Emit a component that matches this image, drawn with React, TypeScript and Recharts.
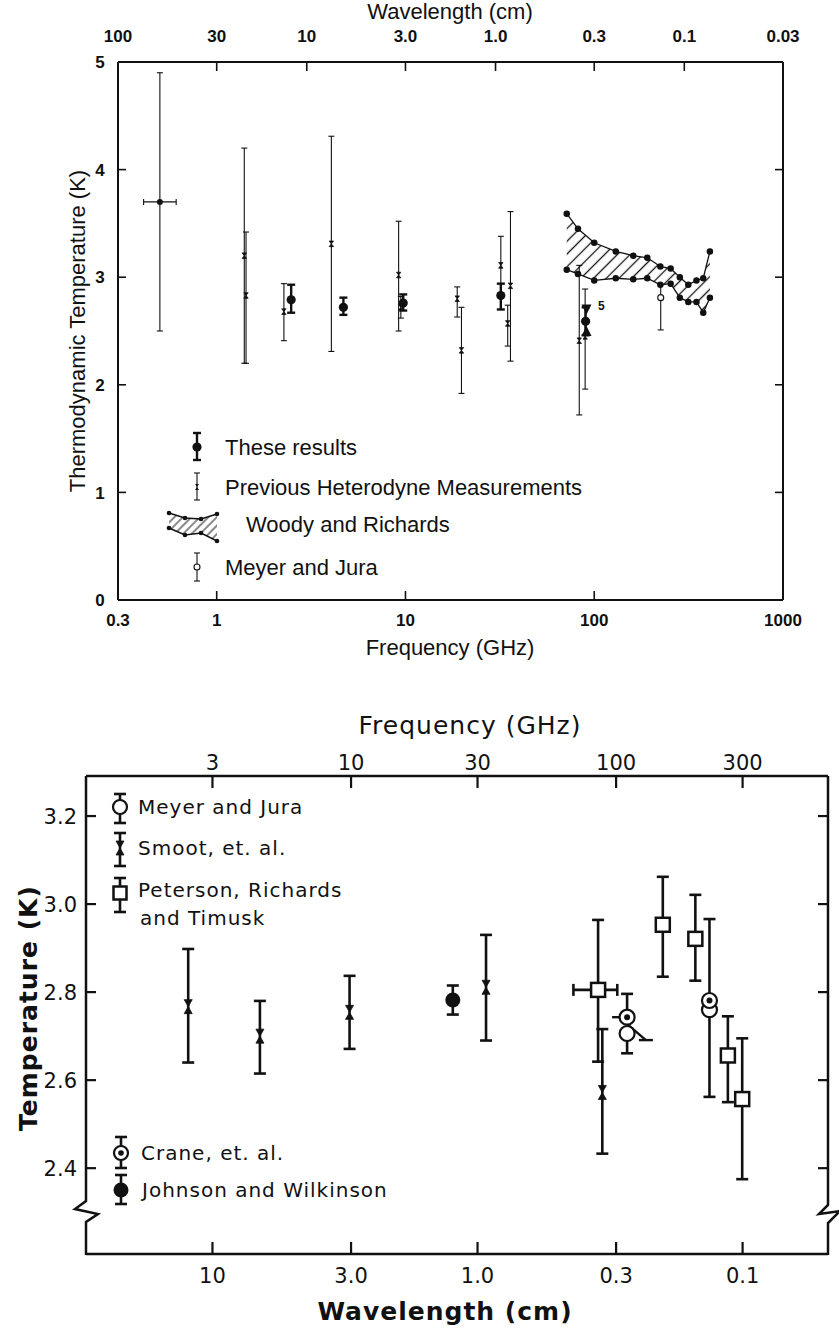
import React from "react";
import { ComposedChart, Scatter, ErrorBar, XAxis, YAxis, Area, Line } from "recharts";

// ---------- 上段: 周波数 (GHz) vs 熱力学温度 ----------
const topFreqTicks = [0.3, 1, 10, 100, 1000];
const topFreqLabels = ["0.3", "1", "10", "100", "1000"];
const topWaveTicks = [0.3, 1, 3, 10, 30, 100, 300, 1000];
const topWaveLabels = ["100", "30", "10", "3.0", "1.0", "0.3", "0.1", "0.03"];
const topTempTicks = [0, 1, 2, 3, 4, 5];
const topTempLabels = ["0", "1", "2", "3", "4", "5"];

// These results
const theseFreq = [2.48, 4.69, 9.73, 32, 90];
const theseTemp = [2.79, 2.72, 2.76, 2.83, 2.59];
const theseLow = [2.67, 2.65, 2.69, 2.7, 2.46];
const theseHigh = [2.93, 2.81, 2.84, 2.94, 2.72];

// 三角マーカー (90 GHz 付近)
const triFreq = [91, 91];
const triTemp = [2.7, 2.5];
const triDir = ["down", "up"];

// Previous Heterodyne Measurements
const heteroFreq = [1.4, 1.43, 2.27, 4.05, 9.2, 9.45, 18.8, 19.8, 32, 34.8, 36, 83.3, 89.5];
const heteroTemp = [3.2, 2.83, 2.68, 3.31, 3.02, 2.72, 2.8, 2.32, 3.11, 2.57, 2.92, 2.41, 2.45];
const heteroLow = [2.2, 2.2, 2.41, 2.31, 2.5, 2.62, 2.63, 1.92, 2.85, 2.36, 2.22, 1.72, 1.96];
const heteroHigh = [4.2, 3.42, 2.94, 4.31, 3.52, 2.82, 2.91, 2.72, 3.38, 2.74, 3.61, 3.11, 2.89];

// 低周波の点 (横方向の誤差つき)
const longFreq = [0.5];
const longTemp = [3.7];
const longLow = [2.5];
const longHigh = [4.9];
const longFreqLow = [0.41];
const longFreqHigh = [0.61];

// Meyer and Jura (上段)
const mjTopFreq = [225];
const mjTopTemp = [2.81];
const mjTopLow = [2.51];
const mjTopHigh = [2.93];

// Woody and Richards 帯域
const bandFreq = [71.5, 82, 100, 130, 161, 191, 224, 254, 284, 315, 348, 378, 410];
const bandUpper = [3.59, 3.45, 3.32, 3.24, 3.2, 3.18, 3.1, 3.08, 3.0, 2.93, 2.97, 2.99, 3.24];
const bandLower = [3.07, 3.03, 2.97, 2.99, 2.98, 2.99, 2.93, 2.94, 2.81, 2.77, 2.77, 2.67, 2.81];

// ---------- 下段: 波長 (cm) vs 温度 ----------
const botFreqTicks = [3, 10, 30, 100, 300];
const botFreqLabels = ["3", "10", "30", "100", "300"];
const botWaveLabels = ["10", "3.0", "1.0", "0.3", "0.1"];
const botTempTicks = [2.4, 2.6, 2.8, 3.0, 3.2];
const botTempLabels = ["2.4", "2.6", "2.8", "3.0", "3.2"];

const smootFreq = [2.43, 4.53, 9.87, 32.3, 88.7];
const smootTemp = [2.767, 2.7, 2.754, 2.811, 2.572];
const smootLow = [2.64, 2.615, 2.671, 2.69, 2.433];
const smootHigh = [2.898, 2.78, 2.837, 2.93, 2.716];

const jwFreq = [24.2];
const jwTemp = [2.782];
const jwLow = [2.749];
const jwHigh = [2.815];

const prtFreq = [85.5, 150, 199, 264, 299];
const prtTemp = [2.805, 2.953, 2.921, 2.656, 2.557];
const prtLow = [2.642, 2.835, 2.826, 2.55, 2.375];
const prtHigh = [2.964, 3.062, 3.021, 2.745, 2.695];
const prtFreqLow = [69, 150, 199, 264, 299];
const prtFreqHigh = [101, 150, 199, 264, 299];

const mjFreq = [110, 225];
const mjTemp = [2.706, 2.76];
const mjLow = [2.661, 2.562];
const mjHigh = [2.706, 2.966];

const craneFreq = [110, 225];
const craneTemp = [2.743, 2.781];
const craneLow = [2.743, 2.781];
const craneHigh = [2.796, 2.781];

// 斜めの誤差範囲
const slantFreq = [102.6, 129.5];
const slantTemp = [2.743, 2.691];

const INK = "#111";
const TOP_FONT = "'Liberation Sans', Arial, sans-serif";
const BOT_FONT = "'DejaVu Sans', sans-serif";

function pts(f: number[], t: number[], lo: number[], hi: number[], fl?: number[], fh?: number[]) {
  return f.map((v, i) => ({
    f: v,
    t: t[i],
    ey: [t[i] - lo[i], hi[i] - t[i]],
    ex: fl && fh ? [v - fl[i], fh[i] - v] : [0, 0],
  }));
}

const theseData = pts(theseFreq, theseTemp, theseLow, theseHigh);
const heteroData = pts(heteroFreq, heteroTemp, heteroLow, heteroHigh);
const longData = pts(longFreq, longTemp, longLow, longHigh, longFreqLow, longFreqHigh);
const mjTopData = pts(mjTopFreq, mjTopTemp, mjTopLow, mjTopHigh);
const triData = triFreq.map((f, i) => ({ f, t: triTemp[i], dir: triDir[i] }));
const bandData = bandFreq.map((f, i) => ({
  f,
  hi: bandUpper[i],
  lo: bandLower[i],
  band: [bandLower[i], bandUpper[i]],
}));

const smootData = pts(smootFreq, smootTemp, smootLow, smootHigh);
const jwData = pts(jwFreq, jwTemp, jwLow, jwHigh);
const prtData = pts(prtFreq, prtTemp, prtLow, prtHigh, prtFreqLow, prtFreqHigh);
const mjData = pts(mjFreq, mjTemp, mjLow, mjHigh);
const craneData = pts(craneFreq, craneTemp, craneLow, craneHigh);
const slantData = slantFreq.map((f, i) => ({ f, t: slantTemp[i] }));

/**
 * 内向きの目盛り線とラベルを描くカスタム tick
 */
function AxisTick({ x, y, payload, o }: any) {
  const v = payload.value;
  const idx = o.values.indexOf(v);
  const label = o.labels && idx >= 0 ? o.labels[idx] : "";
  const drawLine = !o.noLine.includes(v);
  let l = [x, y, x, y];
  let tx = x;
  let ty = y;
  let anchor = "middle";
  if (o.side === "bottom") {
    l = [x, y, x, y - o.len];
    ty = y + o.gap;
  } else if (o.side === "top") {
    l = [x, y, x, y + o.len];
    ty = y - o.gap;
  } else if (o.side === "left") {
    l = [x, y, x + o.len, y];
    tx = x - o.gap;
    anchor = o.anchor || "end";
  } else {
    l = [x, y, x - o.len, y];
  }
  return (
    <g>
      {drawLine && <line x1={l[0]} y1={l[1]} x2={l[2]} y2={l[3]} stroke={INK} strokeWidth={o.sw} />}
      {label && (
        <text
          x={tx}
          y={ty}
          dy="0.36em"
          textAnchor={anchor}
          fontFamily={o.font}
          fontSize={o.size}
          fontWeight={o.weight || "normal"}
          fill={INK}
        >
          {label}
        </text>
      )}
    </g>
  );
}

const tickOf = (o: any) => (p: any) => <AxisTick {...p} o={o} />;

// マーカー形状
const dotShape = (r: number) => (p: any) => <circle cx={p.cx} cy={p.cy} r={r} fill={INK} />;
const openCircle = (r: number, sw: number) => (p: any) => (
  <circle cx={p.cx} cy={p.cy} r={r} fill="#fff" stroke={INK} strokeWidth={sw} />
);
const hourglass = (w: number, h: number) => (p: any) => (
  <path
    d={`M${p.cx - w},${p.cy - h}L${p.cx + w},${p.cy - h}L${p.cx - w},${p.cy + h}L${p.cx + w},${p.cy + h}Z`}
    fill={INK}
    stroke={INK}
    strokeWidth={0.8}
  />
);
const squareShape = (p: any) => (
  <rect x={p.cx - 7} y={p.cy - 7} width={14} height={14} fill="#fff" stroke={INK} strokeWidth={2.5} />
);
const craneShape = (p: any) => (
  <g>
    <circle cx={p.cx} cy={p.cy} r={7.5} fill="#fff" stroke={INK} strokeWidth={2.2} />
    <circle cx={p.cx} cy={p.cy} r={3} fill={INK} />
  </g>
);
const triShape = (p: any) => {
  const s = 5;
  const d =
    p.payload.dir === "down"
      ? `M${p.cx - s},${p.cy - s}L${p.cx + s},${p.cy - s}L${p.cx},${p.cy + s}Z`
      : `M${p.cx - s},${p.cy + s}L${p.cx + s},${p.cy + s}L${p.cx},${p.cy - s}Z`;
  return <path d={d} fill={INK} />;
};

function TopChart() {
  const axisLine = { stroke: INK, strokeWidth: 2 };
  return (
    <ComposedChart width={839} height={680} data={bandData} margin={{ top: 32, right: 16, bottom: 50, left: 78 }}>
      <XAxis
        dataKey="f"
        type="number"
        scale="log"
        domain={[0.3, 1000]}
        allowDataOverflow
        ticks={topFreqTicks}
        interval={0}
        height={30}
        tickSize={0}
        tickMargin={0}
        tickLine={false}
        axisLine={axisLine}
        tick={tickOf({ side: "bottom", values: topFreqTicks, labels: topFreqLabels, noLine: [0.3, 1000], len: 9, gap: 20, sw: 1.6, font: TOP_FONT, size: 17, weight: "bold" })}
      />
      <XAxis
        xAxisId="top"
        orientation="top"
        dataKey="f"
        type="number"
        scale="log"
        domain={[0.3, 1000]}
        allowDataOverflow
        ticks={topWaveTicks}
        interval={0}
        height={30}
        tickSize={0}
        tickMargin={0}
        tickLine={false}
        axisLine={axisLine}
        tick={tickOf({ side: "top", values: topWaveTicks, labels: topWaveLabels, noLine: [0.3, 1000], len: 9, gap: 26, sw: 1.6, font: TOP_FONT, size: 17, weight: "bold" })}
      />
      <YAxis
        dataKey="t"
        type="number"
        domain={[0, 5]}
        allowDataOverflow
        ticks={topTempTicks}
        interval={0}
        width={40}
        tickSize={0}
        tickMargin={0}
        tickLine={false}
        axisLine={axisLine}
        tick={tickOf({ side: "left", anchor: "middle", values: topTempTicks, labels: topTempLabels, noLine: [0, 5], len: 8, gap: 18, sw: 1.6, font: TOP_FONT, size: 17, weight: "bold" })}
      />
      <YAxis
        yAxisId="right"
        orientation="right"
        type="number"
        domain={[0, 5]}
        allowDataOverflow
        ticks={topTempTicks}
        interval={0}
        width={40}
        tickSize={0}
        tickMargin={0}
        tickLine={false}
        axisLine={axisLine}
        tick={tickOf({ side: "right", values: topTempTicks, labels: null, noLine: [0, 5], len: 8, gap: 0, sw: 1.6 })}
      />

      {/* Woody and Richards 帯域 */}
      <Area dataKey="band" type="linear" fill="url(#hatch)" fillOpacity={1} stroke="none" isAnimationActive={false} />
      <Line dataKey="hi" type="linear" stroke={INK} strokeWidth={1.3} dot={{ r: 2.6, fill: INK, stroke: INK }} isAnimationActive={false} />
      <Line dataKey="lo" type="linear" stroke={INK} strokeWidth={1.3} dot={{ r: 2.6, fill: INK, stroke: INK }} isAnimationActive={false} />

      {/* 以前のヘテロダイン測定 */}
      <Scatter data={heteroData} dataKey="t" shape={hourglass(2.2, 2.8)} isAnimationActive={false}>
        <ErrorBar dataKey="ey" direction="y" width={3} stroke={INK} strokeWidth={1.1} />
      </Scatter>
      <Scatter data={longData} dataKey="t" shape={dotShape(3)} isAnimationActive={false}>
        <ErrorBar dataKey="ey" direction="y" width={3} stroke={INK} strokeWidth={1.1} />
        <ErrorBar dataKey="ex" direction="x" width={3} stroke={INK} strokeWidth={1.1} />
      </Scatter>

      {/* These results */}
      <Scatter data={theseData} dataKey="t" shape={dotShape(4.6)} isAnimationActive={false}>
        <ErrorBar dataKey="ey" direction="y" width={4} stroke={INK} strokeWidth={2.4} />
      </Scatter>
      <Scatter data={triData} dataKey="t" shape={triShape} isAnimationActive={false} />

      {/* Meyer and Jura */}
      <Scatter data={mjTopData} dataKey="t" shape={openCircle(3, 1.1)} isAnimationActive={false}>
        <ErrorBar dataKey="ey" direction="y" width={3} stroke={INK} strokeWidth={1.1} />
      </Scatter>
    </ComposedChart>
  );
}

function BottomChart() {
  const axisLine = { stroke: INK, strokeWidth: 2.5 };
  const bar = { stroke: INK, strokeWidth: 2.6 };
  return (
    <ComposedChart width={839} height={651} data={slantData} margin={{ top: 66, right: 1, bottom: 47, left: 46 }}>
      <XAxis
        dataKey="f"
        type="number"
        scale="log"
        domain={[1, 630]}
        allowDataOverflow
        ticks={botFreqTicks}
        interval={0}
        height={30}
        tickSize={0}
        tickMargin={0}
        tickLine={false}
        axisLine={axisLine}
        tick={tickOf({ side: "bottom", values: botFreqTicks, labels: botWaveLabels, noLine: [], len: 12, gap: 21, sw: 2.2, font: BOT_FONT, size: 21 })}
      />
      <XAxis
        xAxisId="top"
        orientation="top"
        dataKey="f"
        type="number"
        scale="log"
        domain={[1, 630]}
        allowDataOverflow
        ticks={botFreqTicks}
        interval={0}
        height={30}
        tickSize={0}
        tickMargin={0}
        tickLine={false}
        axisLine={axisLine}
        tick={tickOf({ side: "top", values: botFreqTicks, labels: botFreqLabels, noLine: [], len: 12, gap: 14, sw: 2.2, font: BOT_FONT, size: 21 })}
      />
      <YAxis
        dataKey="t"
        type="number"
        domain={[2.205, 3.291]}
        allowDataOverflow
        ticks={botTempTicks}
        interval={0}
        width={40}
        tickSize={0}
        tickMargin={0}
        tickLine={false}
        axisLine={false}
        tick={tickOf({ side: "left", values: botTempTicks, labels: botTempLabels, noLine: [], len: 10, gap: 9, sw: 2.2, font: BOT_FONT, size: 21 })}
      />
      <YAxis
        yAxisId="right"
        orientation="right"
        type="number"
        domain={[2.205, 3.291]}
        allowDataOverflow
        ticks={botTempTicks}
        interval={0}
        width={10}
        tickSize={0}
        tickMargin={0}
        tickLine={false}
        axisLine={false}
        tick={tickOf({ side: "right", values: botTempTicks, labels: null, noLine: [], len: 10, gap: 0, sw: 2.2 })}
      />

      {/* 斜めの範囲 */}
      <Line
        dataKey="t"
        type="linear"
        stroke={INK}
        strokeWidth={2.4}
        isAnimationActive={false}
        dot={(p: any) => (
          <line key={p.index} x1={p.cx - 7} y1={p.cy} x2={p.cx + 7} y2={p.cy} stroke={INK} strokeWidth={2.4} />
        )}
      />

      <Scatter data={smootData} dataKey="t" shape={hourglass(4, 7)} isAnimationActive={false}>
        <ErrorBar dataKey="ey" direction="y" width={6} {...bar} />
      </Scatter>
      <Scatter data={jwData} dataKey="t" shape={dotShape(7.5)} isAnimationActive={false}>
        <ErrorBar dataKey="ey" direction="y" width={6} {...bar} />
      </Scatter>
      <Scatter data={prtData} dataKey="t" shape={squareShape} isAnimationActive={false}>
        <ErrorBar dataKey="ey" direction="y" width={6} {...bar} />
        <ErrorBar dataKey="ex" direction="x" width={6} {...bar} />
      </Scatter>
      <Scatter data={mjData} dataKey="t" shape={openCircle(7.5, 2.2)} isAnimationActive={false}>
        <ErrorBar dataKey="ey" direction="y" width={6} {...bar} />
      </Scatter>
      <Scatter data={craneData} dataKey="t" shape={craneShape} isAnimationActive={false}>
        <ErrorBar dataKey="ey" direction="y" width={6} {...bar} />
      </Scatter>
    </ComposedChart>
  );
}

// 凡例用の誤差棒アイコン
function VBar({ x, y1, y2, cap, sw }: any) {
  return (
    <g stroke={INK} strokeWidth={sw}>
      <line x1={x} y1={y1} x2={x} y2={y2} />
      <line x1={x - cap} y1={y1} x2={x + cap} y2={y1} />
      <line x1={x - cap} y1={y2} x2={x + cap} y2={y2} />
    </g>
  );
}

function Label({ x, y, children, size, font, weight, anchor, spacing, rotate }: any) {
  return (
    <text
      x={x}
      y={y}
      dy="0.36em"
      fontSize={size}
      fontFamily={font}
      fontWeight={weight || "normal"}
      textAnchor={anchor || "start"}
      letterSpacing={spacing || 0}
      fill={INK}
      transform={rotate ? `rotate(-90 ${x} ${y})` : undefined}
    >
      {children}
    </text>
  );
}

function Overlay() {
  const woodyUp = [[169, 513], [185, 518], [201, 519], [217, 514]];
  const woodyLo = [[169, 528], [185, 535], [201, 533], [217, 541]];
  const poly = [...woodyUp, ...woodyLo.slice().reverse()].map((p) => p.join(",")).join(" ");
  return (
    <svg width={839} height={1331} style={{ position: "absolute", left: 0, top: 0, pointerEvents: "none" }}>
      {/* 上段の文字 */}
      <Label x={450} y={11} size={22} font={TOP_FONT} anchor="middle">Wavelength (cm)</Label>
      <Label x={450} y={647} size={22} font={TOP_FONT} anchor="middle">Frequency (GHz)</Label>
      <Label x={77} y={331} size={22} font={TOP_FONT} anchor="middle" rotate>
        Thermodynamic Temperature (K)
      </Label>
      <Label x={598} y={306} size={12} font={TOP_FONT} weight="bold">5</Label>

      {/* 上段の凡例 */}
      <VBar x={197} y1={433} y2={460} cap={4} sw={2.4} />
      <circle cx={197} cy={447} r={4.6} fill={INK} />
      <Label x={225} y={447} size={22} font={TOP_FONT}>These results</Label>

      <VBar x={197} y1={473} y2={500} cap={3} sw={1.1} />
      <path d="M195,484L199,484L195,490L199,490Z" fill={INK} />
      <Label x={225} y={487} size={22} font={TOP_FONT}>Previous Heterodyne Measurements</Label>

      <polygon points={poly} fill="url(#hatch2)" stroke="none" />
      <polyline points={woodyUp.map((p) => p.join(",")).join(" ")} fill="none" stroke={INK} strokeWidth={1.4} />
      <polyline points={woodyLo.map((p) => p.join(",")).join(" ")} fill="none" stroke={INK} strokeWidth={1.4} />
      {[...woodyUp, ...woodyLo].map((p, i) => (
        <circle key={i} cx={p[0]} cy={p[1]} r={2.3} fill={INK} />
      ))}
      <Label x={246} y={524} size={22} font={TOP_FONT}>Woody and Richards</Label>

      <VBar x={197} y1={553} y2={581} cap={3} sw={1.1} />
      <circle cx={197} cy={567} r={3} fill="#fff" stroke={INK} strokeWidth={1.1} />
      <Label x={225} y={567} size={22} font={TOP_FONT}>Meyer and Jura</Label>

      {/* 下段の枠 (左右、破断記号つき) */}
      <path d="M86,776L86,1201L75,1209L98,1214L86,1222L86,1255" fill="none" stroke={INK} strokeWidth={2.5} />
      <path d="M828,776L828,1205L819,1214L840,1211L828,1223L828,1255" fill="none" stroke={INK} strokeWidth={2.5} />

      {/* 下段の文字 */}
      <Label x={470} y={725} size={25} font={BOT_FONT} anchor="middle" spacing={1}>Frequency (GHz)</Label>
      <Label x={445} y={1311} size={25} font={BOT_FONT} anchor="middle" weight="bold" spacing={1}>
        Wavelength (cm)
      </Label>
      <Label x={28} y={1008} size={25} font={BOT_FONT} anchor="middle" weight="bold" spacing={1} rotate>
        Temperature (K)
      </Label>

      {/* 下段の凡例 */}
      <VBar x={120} y1={794} y2={823} cap={6} sw={2.6} />
      <circle cx={120} cy={807} r={7} fill="#fff" stroke={INK} strokeWidth={2.2} />
      <Label x={138} y={807} size={20} font={BOT_FONT} spacing={1}>Meyer and Jura</Label>

      <VBar x={120} y1={833} y2={866} cap={6} sw={2.6} />
      <path d="M116,841L124,841L116,855L124,855Z" fill={INK} stroke={INK} strokeWidth={0.8} />
      <Label x={138} y={848} size={20} font={BOT_FONT} spacing={1}>Smoot, et. al.</Label>

      <VBar x={120} y1={878} y2={912} cap={6} sw={2.6} />
      <rect x={113.5} y={886.5} width={13} height={13} fill="#fff" stroke={INK} strokeWidth={2.5} />
      <Label x={138} y={890} size={20} font={BOT_FONT} spacing={1}>Peterson, Richards</Label>
      <Label x={140} y={918} size={20} font={BOT_FONT} spacing={1}>and Timusk</Label>

      <VBar x={121} y1={1137} y2={1168} cap={6} sw={2.6} />
      <circle cx={121} cy={1153} r={7} fill="#fff" stroke={INK} strokeWidth={2.2} />
      <circle cx={121} cy={1153} r={2.8} fill={INK} />
      <Label x={141} y={1153} size={20} font={BOT_FONT} spacing={1}>Crane, et. al.</Label>

      <VBar x={121} y1={1175} y2={1204} cap={6} sw={2.6} />
      <circle cx={121} cy={1190} r={7.5} fill={INK} />
      <Label x={142} y={1190} size={20} font={BOT_FONT} spacing={1}>Johnson and Wilkinson</Label>
    </svg>
  );
}

export default function App() {
  return (
    <div
      style={{
        position: "absolute",
        left: 0,
        top: 0,
        width: 839,
        height: 1331,
        background: "#fff",
        overflow: "hidden",
      }}
    >
      <svg width={0} height={0} style={{ position: "absolute" }}>
        <defs>
          <pattern id="hatch" patternUnits="userSpaceOnUse" width={9} height={9} patternTransform="rotate(45)">
            <line x1={4.5} y1={0} x2={4.5} y2={9} stroke={INK} strokeWidth={1.3} />
          </pattern>
          <pattern id="hatch2" patternUnits="userSpaceOnUse" width={6} height={6} patternTransform="rotate(45)">
            <line x1={3} y1={0} x2={3} y2={6} stroke={INK} strokeWidth={1} />
          </pattern>
        </defs>
      </svg>
      <div style={{ position: "absolute", left: 0, top: 0 }}>
        <TopChart />
      </div>
      <div style={{ position: "absolute", left: 0, top: 680 }}>
        <BottomChart />
      </div>
      <Overlay />
    </div>
  );
}
